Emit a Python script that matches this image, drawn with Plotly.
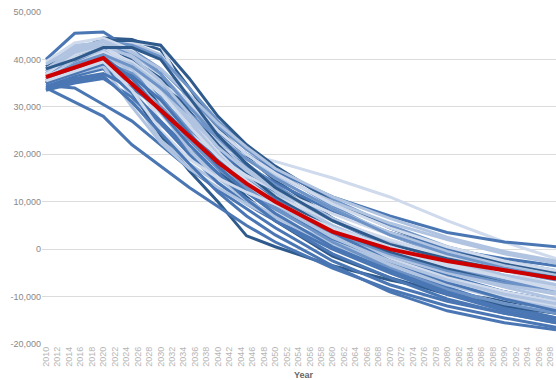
import plotly.graph_objects as go

YEARS = [2010, 2015, 2020, 2025, 2030, 2035, 2040, 2045, 2050, 2060, 2070, 2080, 2090, 2099]

# Values in thousands
MEAN_K = [36.3, 38.4, 40.3, 34.8, 29.3, 23.8, 18.3, 13.8, 10.0, 3.7, 0.0, -2.5, -4.5, -6.2]
MEAN_YEARS = [2010, 2015, 2020, 2025, 2030, 2035, 2040, 2045, 2050, 2060, 2070, 2080, 2090, 2099]

SERIES_K = [
    [38.0, 41.5, 44.5, 44.2, 42.0, 34.0, 25.5, 19.5, 14.5, 6.5, 1.0, -3.0, -6.0, -8.0],
    [37.0, 40.0, 43.8, 43.5, 41.0, 31.0, 23.0, 17.0, 12.0, 4.5, -0.5, -4.5, -7.5, -9.5],
    [40.0, 45.5, 45.8, 42.0, 37.0, 29.0, 22.0, 16.5, 11.5, 4.0, -1.5, -5.5, -9.0, -11.0],
    [36.5, 41.0, 43.0, 43.5, 43.0, 31.0, 21.0, 15.0, 10.5, 3.0, -2.5, -6.5, -9.5, -11.5],
    [36.0, 40.0, 44.0, 43.0, 40.5, 34.0, 27.0, 21.5, 16.5, 9.0, 3.0, -1.5, -4.5, -6.5],
    [35.0, 39.0, 42.0, 40.0, 35.0, 28.0, 21.0, 15.5, 11.0, 3.5, -2.0, -6.0, -9.0, -11.0],
    [38.5, 43.0, 43.5, 38.0, 30.0, 24.0, 19.0, 15.0, 11.5, 5.0, 0.0, -4.0, -7.0, -9.0],
    [37.5, 40.0, 41.0, 34.0, 26.0, 23.0, 21.0, 20.0, 18.5, 15.0, 11.0, 6.0, 1.5, -2.0],
    [36.0, 38.0, 39.0, 33.0, 24.0, 16.5, 10.0, 2.8, 0.5, -3.5, -6.5, -9.0, -11.0, -12.5],
    [34.0, 31.0, 28.0, 22.0, 17.5, 13.0, 9.0, 5.0, 1.5, -4.0, -8.5, -12.0, -14.5, -16.5],
    [34.5, 34.0, 30.5, 27.0, 22.0, 17.0, 12.5, 8.5, 4.5, -2.5, -7.5, -11.0, -13.5, -15.5],
    [35.5, 38.0, 40.0, 32.0, 23.0, 18.0, 14.0, 10.0, 6.5, 0.5, -4.5, -8.5, -11.5, -13.5],
    [36.0, 39.5, 42.0, 36.0, 27.0, 20.0, 16.0, 12.0, 8.0, 2.0, -3.0, -7.0, -10.0, -12.0],
    [37.0, 40.5, 43.0, 42.0, 38.0, 32.0, 26.0, 21.0, 17.0, 10.5, 5.0, 0.5, -2.5, -4.5],
    [38.5, 41.0, 44.0, 44.0, 43.0, 36.0, 28.0, 22.0, 17.5, 10.0, 4.5, 0.0, -3.0, -5.0],
    [35.0, 37.5, 39.0, 36.0, 31.0, 26.0, 21.5, 17.5, 14.0, 8.0, 3.5, 0.0, -2.0, -3.5],
    [36.0, 38.5, 40.5, 38.0, 33.0, 27.0, 22.5, 19.0, 15.5, 10.0, 5.5, 2.0, -1.0, -3.0],
    [37.0, 39.0, 41.0, 39.5, 35.5, 30.0, 24.5, 20.0, 16.5, 11.0, 7.0, 3.5, 1.5, 0.5],
    [39.5, 43.5, 44.5, 42.0, 36.0, 28.0, 20.5, 14.5, 9.5, 2.5, -2.0, -6.0, -9.0, -11.0],
    [37.0, 39.5, 42.5, 40.0, 34.0, 25.5, 18.0, 13.0, 9.0, 3.0, -1.5, -5.0, -8.0, -10.5],
    [34.5, 36.5, 38.0, 33.0, 27.0, 21.0, 16.0, 12.0, 8.5, 2.0, -3.5, -8.0, -12.0, -14.5],
    [35.5, 38.0, 40.0, 36.5, 31.0, 24.0, 17.0, 11.0, 6.0, -1.5, -6.0, -9.5, -12.0, -13.5],
    [36.5, 39.0, 41.5, 39.0, 33.5, 27.5, 22.0, 17.0, 13.0, 6.5, 1.5, -2.5, -5.5, -7.5],
    [38.0, 42.0, 43.5, 41.0, 37.0, 30.5, 24.0, 19.0, 15.0, 8.5, 3.5, -0.5, -3.5, -5.5],
    [36.5, 38.0, 40.0, 35.0, 28.5, 22.0, 17.5, 14.0, 11.0, 6.0, 2.0, -1.5, -4.0, -6.0],
    [33.5, 35.0, 36.0, 32.0, 26.5, 20.0, 14.0, 9.5, 6.0, 0.0, -5.0, -9.5, -13.0, -15.0],
    [36.0, 37.5, 38.5, 35.0, 30.0, 23.0, 17.0, 12.5, 9.0, 3.5, -1.0, -4.5, -7.0, -8.5],
    [37.5, 40.5, 42.0, 40.0, 36.0, 29.0, 22.0, 16.0, 11.0, 4.0, -0.5, -4.0, -6.5, -8.0],
    [35.0, 37.0, 38.5, 30.0, 22.5, 17.0, 13.0, 9.5, 6.5, 1.5, -3.0, -7.0, -10.5, -13.0],
    [38.0, 40.5, 42.0, 39.5, 35.0, 31.0, 25.0, 20.0, 16.0, 9.5, 4.5, 0.5, -2.5, -4.5],
    [37.0, 39.5, 42.5, 41.5, 37.0, 30.0, 23.5, 18.0, 13.5, 6.0, 0.5, -3.5, -6.5, -8.5],
    [36.0, 40.0, 42.0, 37.0, 29.0, 21.0, 15.0, 10.5, 7.0, 1.0, -3.5, -7.5, -10.5, -12.5],
    [35.5, 37.0, 39.5, 37.0, 32.0, 25.0, 18.5, 13.0, 8.5, 1.5, -4.0, -8.5, -11.5, -13.5],
    [37.0, 41.0, 43.0, 39.0, 31.0, 24.5, 19.5, 15.5, 12.5, 7.5, 3.0, -1.0, -4.5, -7.5],
    [34.0, 36.0, 37.0, 34.0, 29.5, 24.0, 19.0, 14.5, 10.5, 3.5, -2.5, -7.0, -10.5, -13.0],
    [36.5, 39.0, 41.0, 39.0, 34.5, 27.0, 20.0, 14.0, 9.5, 2.5, -2.5, -6.5, -9.5, -11.5],
    [39.0, 42.5, 44.0, 41.5, 38.0, 32.5, 26.5, 21.5, 17.0, 11.0, 6.5, 2.5, -0.5, -2.5],
    [35.0, 38.0, 40.5, 36.0, 29.0, 22.0, 16.0, 10.5, 6.0, -1.0, -6.0, -10.5, -13.5, -15.5],
    [36.5, 39.0, 41.5, 38.5, 33.0, 26.0, 19.5, 14.5, 10.0, 4.0, 0.0, -3.5, -6.0, -8.0],
    [36.0, 39.0, 41.0, 38.5, 34.0, 28.5, 23.5, 19.0, 15.0, 8.5, 3.0, -1.0, -4.0, -6.0],
    [37.5, 41.5, 43.0, 40.5, 35.5, 28.5, 21.5, 16.5, 12.5, 6.0, 1.0, -2.5, -5.5, -7.5],
    [35.0, 37.0, 39.0, 36.5, 31.5, 24.5, 17.5, 12.0, 7.5, 0.5, -4.5, -9.0, -12.5, -14.5],
    [38.0, 40.0, 42.5, 42.5, 40.0, 32.0, 24.0, 18.0, 13.0, 6.0, 1.0, -2.0, -4.5, -6.0],
    [35.5, 37.5, 39.5, 33.5, 25.0, 19.0, 15.0, 12.0, 9.5, 4.5, 0.5, -3.0, -6.0, -8.5],
    [34.0, 35.5, 36.5, 31.0, 24.5, 18.0, 12.0, 7.0, 3.0, -3.5, -9.0, -13.0, -15.5, -17.0],
]

# shade index per series: 0 dark, 1 medium, 2 mid-light, 3 light, 4 very light
SHADES = [0, 3, 1, 4, 2, 1, 3, 4, 0, 1, 1, 3, 4, 2, 0, 1, 3, 1, 4, 3,
          1, 0, 3, 3, 4, 1, 2, 0, 3, 4, 2, 3, 2, 4, 1, 3, 3, 1, 4, 2,
          3, 1, 0, 4, 1]
PALETTE = ["#2f5a8c", "#4a77b4", "#6e93c7", "#b0c4e1", "#cfdaec"]

X_TICKS = list(range(2010, 2099, 2))
Y_TICKS = [-20000, -10000, 0, 10000, 20000, 30000, 40000, 50000]
Y_LABELS = ["-20,000", "-10,000", "0", "10,000", "20,000", "30,000", "40,000", "50,000"]

fig = go.Figure()
for vals, shade in zip(SERIES_K, SHADES):
    fig.add_trace(go.Scatter(
        x=YEARS, y=[v * 1000 for v in vals], mode="lines",
        line=dict(color=PALETTE[shade], width=3), hoverinfo="skip", showlegend=False))

fig.add_trace(go.Scatter(
    x=MEAN_YEARS, y=[v * 1000 for v in MEAN_K], mode="lines",
    line=dict(color="#cc0000", width=4), showlegend=False))

fig.update_layout(
    width=556, height=380,
    margin=dict(l=42, r=0, t=12, b=36, autoexpand=False),
    paper_bgcolor="white", plot_bgcolor="white",
    font=dict(family="Liberation Sans, Arial, sans-serif"),
    annotations=[dict(text="<b>Year</b>", xref="paper", yref="paper", x=0.51, y=-0.093,
                      xanchor="center", yanchor="middle", showarrow=False,
                      font=dict(size=9, color="#666666"))],
)
fig.update_xaxes(
    range=[2009.3, 2099], tickvals=X_TICKS, ticktext=[str(t) for t in X_TICKS],
    tickangle=-90, tickfont=dict(size=9, color="#b5b5b5"), automargin=False,
    showgrid=False, zeroline=False, showline=False, ticks="",
)
fig.update_yaxes(
    range=[-20000, 50000], tickvals=Y_TICKS, ticktext=Y_LABELS, automargin=False,
    tickfont=dict(size=9, color="#888888"),
    showgrid=True, gridcolor="#dcdcdc", gridwidth=1, zeroline=False,
    showline=False, ticks="",
)

fig.write_html("out.html", config={"displayModeBar": False},
               post_script="document.body.style.margin='0';document.body.style.overflow='hidden';")
